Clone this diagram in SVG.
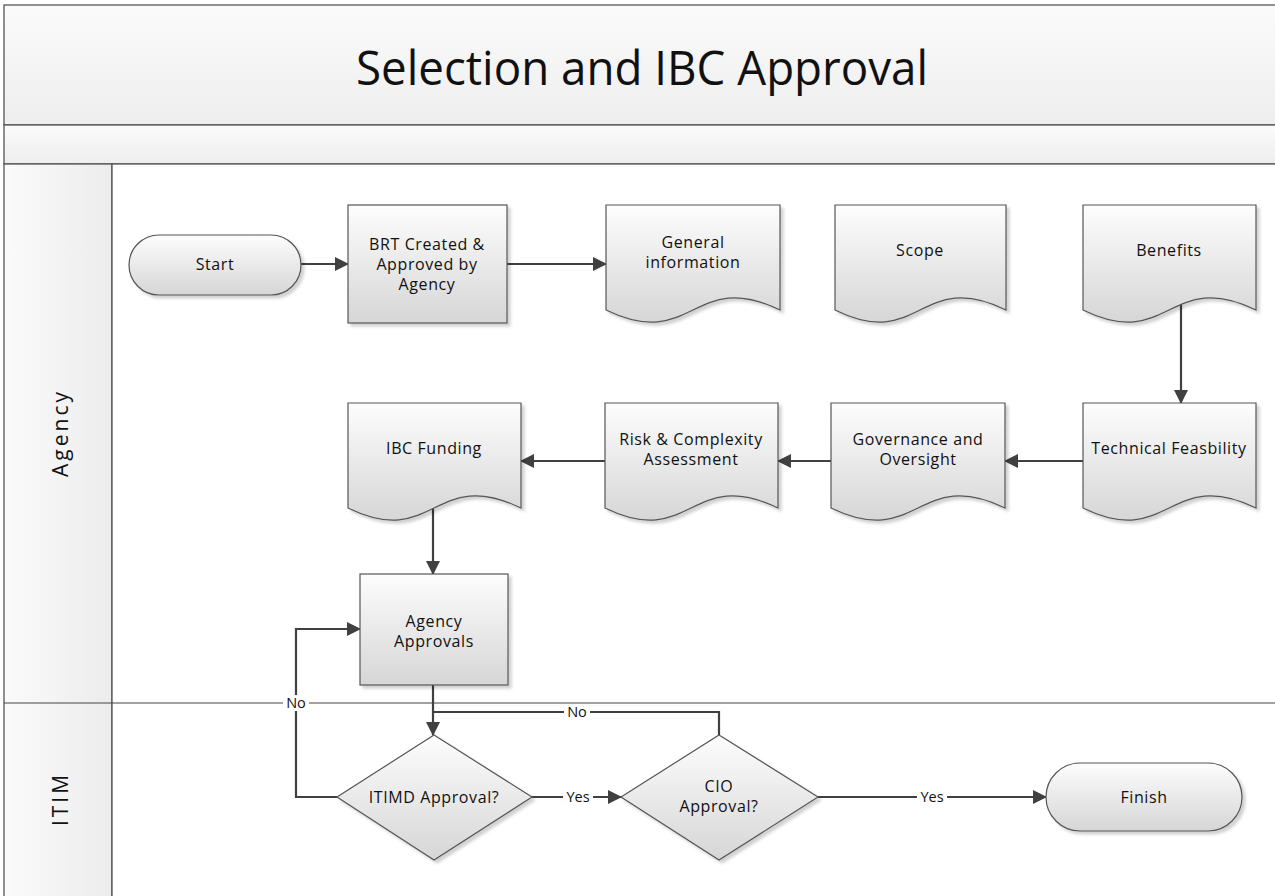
<svg xmlns="http://www.w3.org/2000/svg" width="1275" height="896" viewBox="0 0 1275 896">
<defs>
<linearGradient id="nodeGrad" x1="0" y1="0" x2="0" y2="1">
<stop offset="0" stop-color="#fdfdfd"/>
<stop offset="1" stop-color="#d6d6d6"/>
</linearGradient>
<linearGradient id="bandGrad" x1="0" y1="0" x2="0" y2="1">
<stop offset="0" stop-color="#fbfbfb"/>
<stop offset="1" stop-color="#eeeeee"/>
</linearGradient>
<linearGradient id="laneGrad" x1="0" y1="0" x2="1" y2="0">
<stop offset="0" stop-color="#fbfbfb"/>
<stop offset="1" stop-color="#ececec"/>
</linearGradient>
<filter id="shadow" x="-10%" y="-10%" width="130%" height="130%">
<feDropShadow dx="3" dy="3" stdDeviation="1.5" flood-color="#000" flood-opacity="0.18"/>
</filter>
<marker id="arrow" markerUnits="userSpaceOnUse" markerWidth="14" markerHeight="14" refX="13" refY="7" orient="auto">
<path d="M0,0 L14,7 L0,14 z" fill="#404040"/>
</marker>
</defs>
<style>
.node{fill:url(#nodeGrad);stroke:#555;stroke-width:1.2;filter:url(#shadow)}
.lbl{font-family:"Open Sans","Liberation Sans",sans-serif;font-size:16px;letter-spacing:0.6px;fill:#111;text-anchor:middle}
.conn{fill:none;stroke:#404040;stroke-width:2.2}
.clbl{font-family:"Open Sans","Liberation Sans",sans-serif;font-size:14.5px;fill:#111;text-anchor:middle}
.frame{stroke:#555;stroke-width:1.3}
.lane{font-family:"Open Sans","Liberation Sans",sans-serif;font-size:21px;letter-spacing:3px;fill:#111;text-anchor:middle}
</style>

<g id="pool">
<rect x="4" y="5" width="1280" height="120" fill="url(#bandGrad)" class="frame"/>
<rect x="4" y="125" width="1280" height="39" fill="url(#bandGrad)" class="frame"/>
<rect x="4" y="164" width="108" height="740" fill="url(#laneGrad)" class="frame"/>
<rect x="112" y="164" width="1172" height="740" fill="#ffffff" class="frame"/>
<line x1="4" y1="703" x2="1275" y2="703" stroke="#444" stroke-width="1.2"/>
<text x="642" y="85" font-family="Open Sans, Liberation Sans, sans-serif" font-size="48" fill="#111" text-anchor="middle" textLength="572" lengthAdjust="spacingAndGlyphs">Selection and IBC Approval</text>
</g>

<g id="lane-agency">
<text class="lane" transform="translate(68,433) rotate(-90)">Agency</text>
</g>
<g id="lane-itim">
<text class="lane" transform="translate(68,799) rotate(-90)">ITIM</text>
</g>

<g id="connectors">
<line class="conn" x1="301" y1="264" x2="348" y2="264" marker-end="url(#arrow)"/>
<line class="conn" x1="507" y1="264" x2="606" y2="264" marker-end="url(#arrow)"/>
<line class="conn" x1="1181" y1="302" x2="1181" y2="403" marker-end="url(#arrow)"/>
<line class="conn" x1="1083" y1="461" x2="1005" y2="461" marker-end="url(#arrow)"/>
<line class="conn" x1="831" y1="461" x2="778" y2="461" marker-end="url(#arrow)"/>
<line class="conn" x1="605" y1="461" x2="521" y2="461" marker-end="url(#arrow)"/>
<line class="conn" x1="433" y1="508" x2="433" y2="574" marker-end="url(#arrow)"/>
<line class="conn" x1="433" y1="685" x2="433" y2="735" marker-end="url(#arrow)"/>
<polyline class="conn" points="719,735 719,712 433,712"/>
<polyline class="conn" points="337,797 296,797 296,629 360,629" marker-end="url(#arrow)"/>
<line class="conn" x1="532" y1="797" x2="621" y2="797" marker-end="url(#arrow)"/>
<line class="conn" x1="818" y1="797" x2="1046" y2="797" marker-end="url(#arrow)"/>
<rect x="283" y="695" width="26" height="16" fill="#fff"/>
<text class="clbl" x="296" y="708">No</text>
<rect x="564" y="704" width="26" height="16" fill="#fff"/>
<text class="clbl" x="577" y="717">No</text>
<rect x="563" y="789" width="30" height="16" fill="#fff"/>
<text class="clbl" x="578" y="802">Yes</text>
<rect x="917" y="789" width="30" height="16" fill="#fff"/>
<text class="clbl" x="932" y="802">Yes</text>
</g>

<g id="start">
<rect class="node" x="129" y="235" width="172" height="60" rx="30" ry="30"/>
<text class="lbl" x="215" y="270">Start</text>
</g>
<g id="brt">
<rect class="node" x="348" y="205" width="159" height="118"/>
<text class="lbl" x="427" y="250">BRT Created &amp;</text>
<text class="lbl" x="427" y="270">Approved by</text>
<text class="lbl" x="427" y="290">Agency</text>
</g>
<g id="general">
<path class="node" d="M606,205 H780 V310 C693,268 693,352 606,310 Z"/>
<text class="lbl" x="693" y="248">General</text>
<text class="lbl" x="693" y="268">information</text>
</g>
<g id="scope">
<path class="node" d="M835,205 H1006 V310 C920,268 920,352 835,310 Z"/>
<text class="lbl" x="920" y="256">Scope</text>
</g>
<g id="benefits">
<path class="node" d="M1083,205 H1256 V310 C1169,268 1169,352 1083,310 Z"/>
<text class="lbl" x="1169" y="256">Benefits</text>
</g>
<g id="technical">
<path class="node" d="M1083,403 H1256 V508 C1169,466 1169,550 1083,508 Z"/>
<text class="lbl" x="1169" y="454">Technical Feasbility</text>
</g>
<g id="governance">
<path class="node" d="M831,403 H1005 V508 C918,466 918,550 831,508 Z"/>
<text class="lbl" x="918" y="445">Governance and</text>
<text class="lbl" x="918" y="465">Oversight</text>
</g>
<g id="risk">
<path class="node" d="M605,403 H778 V508 C691,466 691,550 605,508 Z"/>
<text class="lbl" x="691" y="445">Risk &amp; Complexity</text>
<text class="lbl" x="691" y="465">Assessment</text>
</g>
<g id="ibc">
<path class="node" d="M348,403 H521 V508 C434,466 434,550 348,508 Z"/>
<text class="lbl" x="434" y="454">IBC Funding</text>
</g>
<g id="agency-approvals">
<rect class="node" x="360" y="574" width="148" height="111"/>
<text class="lbl" x="434" y="627">Agency</text>
<text class="lbl" x="434" y="647">Approvals</text>
</g>
<g id="itimd">
<path class="node" d="M434,735 L532,797 L434,860 L337,797 Z"/>
<text class="lbl" x="434" y="803">ITIMD Approval?</text>
</g>
<g id="cio">
<path class="node" d="M719,735 L818,797 L719,860 L621,797 Z"/>
<text class="lbl" x="719" y="792">CIO</text>
<text class="lbl" x="719" y="812">Approval?</text>
</g>
<g id="finish">
<rect class="node" x="1046" y="763" width="196" height="68" rx="34" ry="34"/>
<text class="lbl" x="1144" y="803">Finish</text>
</g>
</svg>
